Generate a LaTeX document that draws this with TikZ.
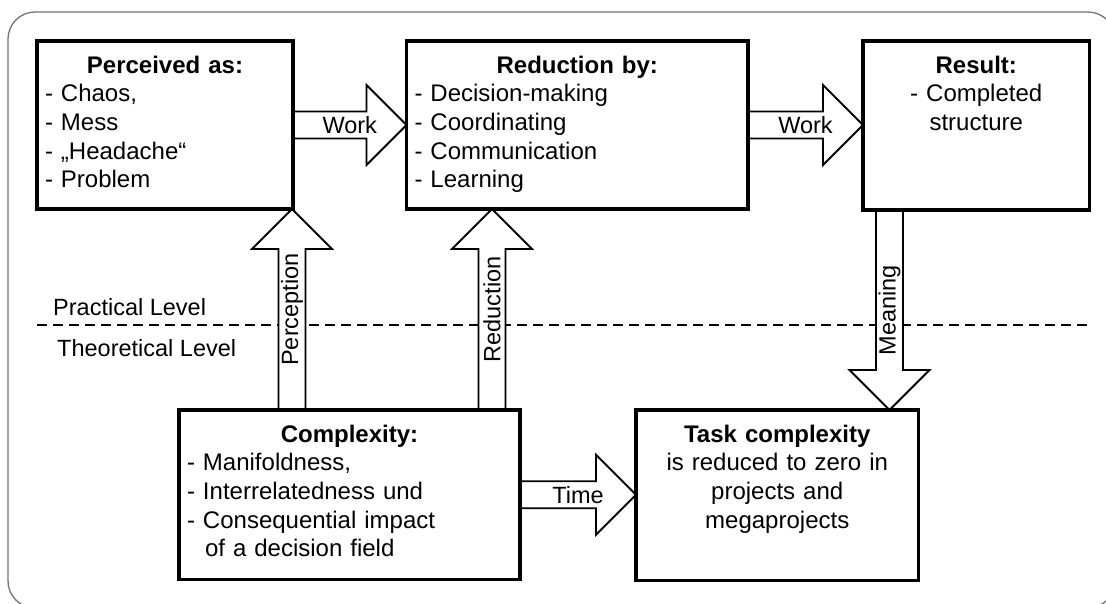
\documentclass[tikz,border=0pt]{standalone}
\usepackage{fontspec}
\setmainfont{Liberation Sans}
\usetikzlibrary{calc,backgrounds}
\setlength{\parindent}{0pt}
\setlength{\parskip}{0pt}
\newcommand\firstline{\rule{0pt}{32pt}}
\newcommand\blockarrow[4]{%
  \coordinate (ba-h) at ($(#2)!40pt!(#1)$);
  \draw[barrow] ($(#1)!13.5pt!90:(#2)$) -- ($(ba-h)!13.5pt!90:(#2)$) -- ($(ba-h)!40pt!90:(#2)$) -- (#2) -- ($(ba-h)!40pt!-90:(#2)$) -- ($(ba-h)!13.5pt!-90:(#2)$) -- ($(#1)!13.5pt!-90:(#2)$) -- cycle;
  \node[alabel, rotate=#4] at ($(#1)!0.5!(#2)$) {#3};
}
\tikzset{
  frame/.style={draw=black!55, line width=1.3pt, rounded corners=27pt},
  levelline/.style={draw=black, line width=1.8pt, dash pattern=on 10pt off 6pt},
  box/.style={draw=black, fill=white, line width=3.6pt, rectangle, inner sep=0pt, outer sep=0pt, anchor=north west},
  btext/.style={inner sep=0pt, anchor=north, font=\fontsize{24}{28.6}\selectfont},
  barrow/.style={draw=black, fill=white, line width=1.8pt, line join=miter},
  alabel/.style={inner sep=0pt, font=\fontsize{23.5}{28.6}\selectfont},
  lvl/.style={inner sep=0pt, anchor=base west, font=\fontsize{23.5}{28.6}\selectfont},
}
\begin{document}
\begin{tikzpicture}[x=1pt, y=-1pt]
\useasboundingbox (0,0) rectangle (1106,603);
\clip (0,0) rectangle (1106,603);

% boxes
\node[box, minimum width=256pt, minimum height=168pt] (perc) at (37,41) {};
\node[box, minimum width=341.5pt, minimum height=168pt] (red) at (406.5,41) {};
\node[box, minimum width=226.5pt, minimum height=169pt] (res) at (863,41) {};
\node[box, minimum width=341pt, minimum height=169.5pt] (comp) at (179,410) {};
\node[box, minimum width=282.5pt, minimum height=170.5pt] (task) at (636,410) {};

% box texts
\node[btext, text width=240pt, align=left] (perc-t) at (perc.north)
  {\centering\firstline\textbf{Perceived as:}\par\raggedright - Chaos,\\ - Mess\\ - „Headache“\\ - Problem};
\node[btext, text width=325.5pt, align=left] (red-t) at (red.north)
  {\centering\firstline\textbf{Reduction by:}\par\raggedright - Decision-making\\ - Coordinating\\ - Communication\\ - Learning};
\node[btext, text width=210pt, align=center] (res-t) at (res.north)
  {\firstline\textbf{Result:}\\ - Completed\\ structure};
\node[btext, text width=325pt, align=left] (comp-t) at (comp.north)
  {\centering\firstline\textbf{Complexity:}\par\raggedright - Manifoldness,\\ - Interrelatedness und\\ - Consequential impact\\ \hspace*{18pt}of a decision field};
\node[btext, text width=266pt, align=center] (task-t) at (task.north)
  {\firstline\textbf{Task complexity}\\ is reduced to zero in\\ projects and\\ megaprojects};

% level labels
\node[lvl] (pl) at (53,315) {Practical Level};
\node[lvl] (tl) at (57,356) {Theoretical Level};

\begin{pgfonlayer}{background}
\draw[frame] (8,12) rectangle (1115,608);
\coordinate (dl1) at (37,325);
\coordinate (dl2) at (1090,325);
\draw[levelline] (dl1) -- (dl2);

\coordinate (xP) at (292,0);
\coordinate (xR) at (492,0);
\coordinate (xM) at (889.5,0);
\coordinate (pA) at (xP |- comp.north);
\coordinate (pB) at (xP |- perc.south);
\blockarrow{pA}{pB}{Perception}{90}
\coordinate (rA) at (xR |- comp.north);
\coordinate (rB) at (xR |- red.south);
\blockarrow{rA}{rB}{Reduction}{90}
\coordinate (mA) at (xM |- res.south);
\coordinate (mB) at (xM |- task.north);
\blockarrow{mA}{mB}{Meaning}{90}
\blockarrow{perc.east}{red.west}{Work}{0}
\coordinate (w2B) at (res.west |- red.east);
\blockarrow{red.east}{w2B}{Work}{0}
\coordinate (tB) at (task.west |- comp.east);
\blockarrow{comp.east}{tB}{Time}{0}
\end{pgfonlayer}
\end{tikzpicture}
\end{document}
